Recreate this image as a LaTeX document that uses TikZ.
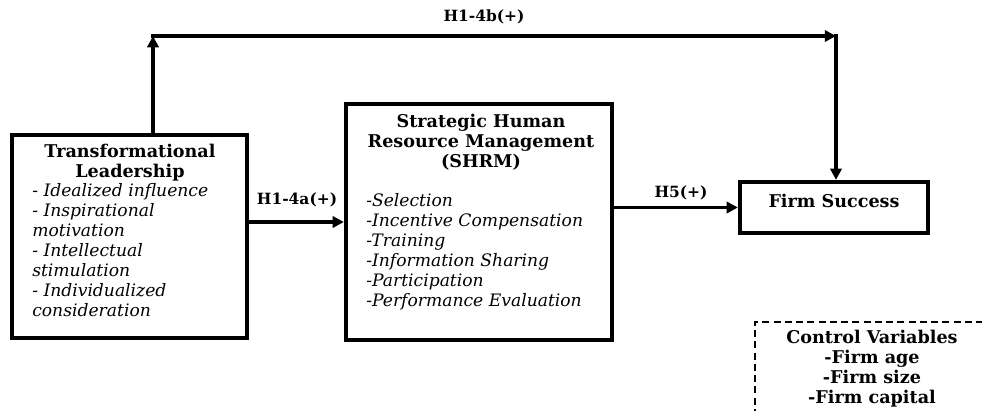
\documentclass[tikz,border=0pt]{standalone}
\usepackage{fontspec}
\setmainfont{DejaVu Serif}
\usetikzlibrary{arrows.meta}
\begin{document}
\begin{tikzpicture}[x=0.025cm,y=-0.025cm,
  box/.style={draw, line width=3pt, inner sep=0pt},
  conn/.style={line width=2.2pt, -{Triangle[length=8pt,width=8pt]}},
  lbl/.style={font=\fontsize{11}{14}\selectfont\bfseries, inner sep=0pt},
  ttl/.style={font=\fontsize{12.5}{14.2}\selectfont\bfseries, align=center, inner sep=0pt, anchor=north},
  itm/.style={font=\fontsize{12.2}{14.2}\selectfont\itshape, align=left, anchor=north west, inner sep=0pt}]
\useasboundingbox (0,0) rectangle (982,410);
\clip (0,0) rectangle (982,410);
% boxes
\node[box, minimum width=5.875cm, minimum height=5.075cm] (TL) at (129.5,236.5) {};
\node[box, minimum width=6.65cm, minimum height=5.9cm] (SH) at (479,222) {};
\node[box, minimum width=4.7cm, minimum height=1.275cm] (FS) at (834,207.5) {};
\node[draw, line width=1.8pt, dash pattern=on 5pt off 3pt, minimum width=6.125cm, minimum height=2.45cm] (CV) at (877.5,371) {};
% texts
\node[ttl] (TLt) at (130,144) {Transformational\\Leadership};
\node[itm] (TLi) at (32,183) {- Idealized influence\\- Inspirational\\motivation\\- Intellectual\\stimulation\\- Individualized\\consideration};
\node[ttl] (SHt) at (481,114) {Strategic Human\\Resource Management\\(SHRM)};
\node[itm] (SHi) at (366,193) {-Selection\\-Incentive Compensation\\-Training\\-Information Sharing\\-Participation\\-Performance Evaluation};
\node[lbl, font=\fontsize{12.5}{14}\selectfont\bfseries] (FSt) at (834,201) {Firm Success};
\node[ttl] (CVt) at (872,330) {Control Variables\\-Firm age\\-Firm size\\-Firm capital};
% connectors
\coordinate (c1) at (153,36);
\coordinate (c2) at (836,36);
\draw[conn] (TL.north -| c1) -- (c1);
\draw[conn] ([xshift=-1.2pt]c1) -- (c2);
\draw[conn] ([yshift=1.1pt]c2) -- (FS.north -| c2);
\draw[conn] (SH.west -| TL.east) -- (SH.west);
\draw[conn] (FS.west -| SH.east) -- (FS.west);
% labels
\node[lbl] (L1) at (484,17) {H1-4b(+)};
\node[lbl] (L2) at (297,200) {H1-4a(+)};
\node[lbl] (L3) at (681,193) {H5(+)};
\end{tikzpicture}
\end{document}
